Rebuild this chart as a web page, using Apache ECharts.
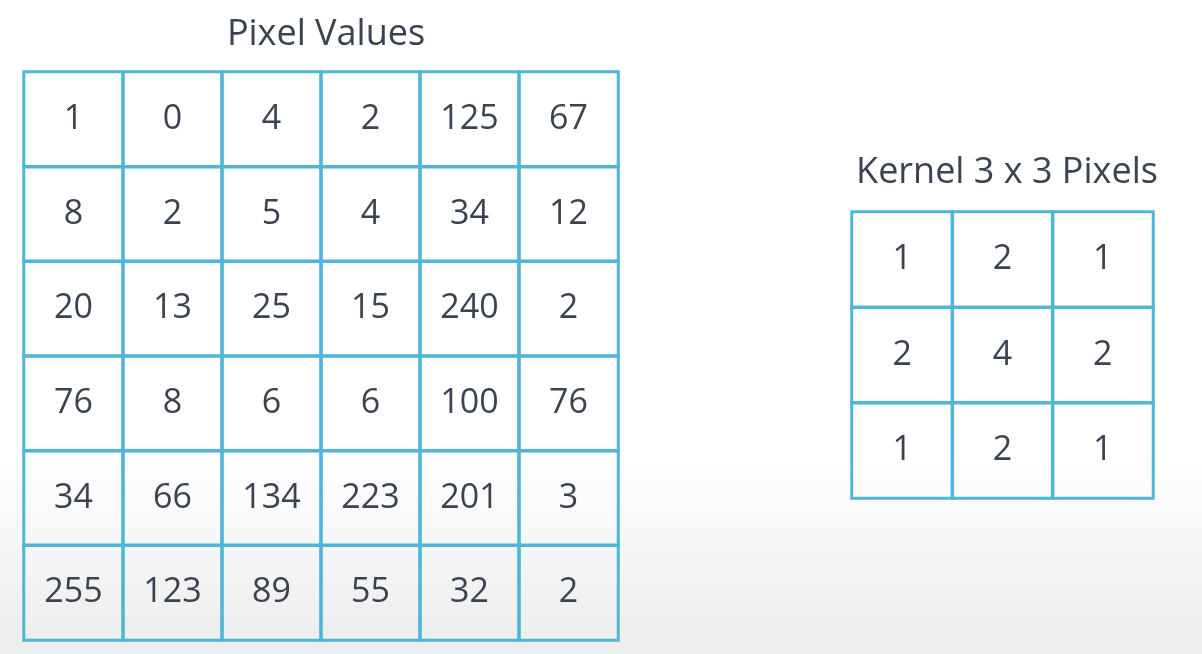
<!DOCTYPE html>
<html>
<head>
<meta charset="utf-8">
<script src="https://cdn.jsdelivr.net/npm/echarts@6/dist/echarts.min.js"></script>
<style>
  html, body { margin: 0; padding: 0; }
  #chart { width: 1202px; height: 654px;
    background: linear-gradient(to bottom, #ffffff 0%, #ffffff 70%, #ececec 100%); }
</style>
</head>
<body>
<div id="chart"></div>
<script>
var pixelValues = [
  [1, 0, 4, 2, 125, 67],
  [8, 2, 5, 4, 34, 12],
  [20, 13, 25, 15, 240, 2],
  [76, 8, 6, 6, 100, 76],
  [34, 66, 134, 223, 201, 3],
  [255, 123, 89, 55, 32, 2]
];
var kernelValues = [
  [1, 2, 1],
  [2, 4, 2],
  [1, 2, 1]
];
var titles = ['Pixel Values', 'Kernel 3 x 3 Pixels'];

(function() {
  var line = '#4fb6d8';
  var ink = '#3c4350';
  var chart = echarts.init(document.getElementById('chart'));

  function toCells(matrix) {
    var out = [];
    matrix.forEach(function(row, r) {
      row.forEach(function(v, c) { out.push([c, r, v]); });
    });
    return out;
  }
  function idx(n) { var a = []; for (var i = 0; i < n; i++) a.push(i); return a; }

  var grids = [
    { left: 24, top: 72, width: 594, height: 568 },
    { left: 852, top: 212, width: 301, height: 286 }
  ];
  var mats = [pixelValues, kernelValues];

  chart.setOption({
    animation: false,
    textStyle: { fontFamily: "'Open Sans', 'Noto Sans', sans-serif" },
    title: [
      { text: titles[0], left: 321, textAlign: 'center', top: 12,
        textStyle: { fontSize: 36, fontWeight: 'normal', color: ink } },
      { text: titles[1], left: 1002, textAlign: 'center', top: 150,
        textStyle: { fontSize: 36, fontWeight: 'normal', color: ink } }
    ],
    grid: grids,
    xAxis: mats.map(function(m, i) {
      return { type: 'category', gridIndex: i, data: idx(m[0].length), show: false };
    }),
    yAxis: mats.map(function(m, i) {
      return { type: 'category', gridIndex: i, data: idx(m.length), inverse: true, show: false };
    }),
    series: mats.map(function(m, i) {
      return {
        type: 'heatmap',
        xAxisIndex: i,
        yAxisIndex: i,
        data: toCells(m),
        itemStyle: { color: 'rgba(255,255,255,0)', borderColor: line, borderWidth: 3 },
        label: {
          show: true,
          formatter: function(p) { return p.value[2]; },
          fontSize: 34,
          fontWeight: 500,
          color: ink
        },
        emphasis: { disabled: true }
      };
    })
  });
})();
</script>
</body>
</html>
